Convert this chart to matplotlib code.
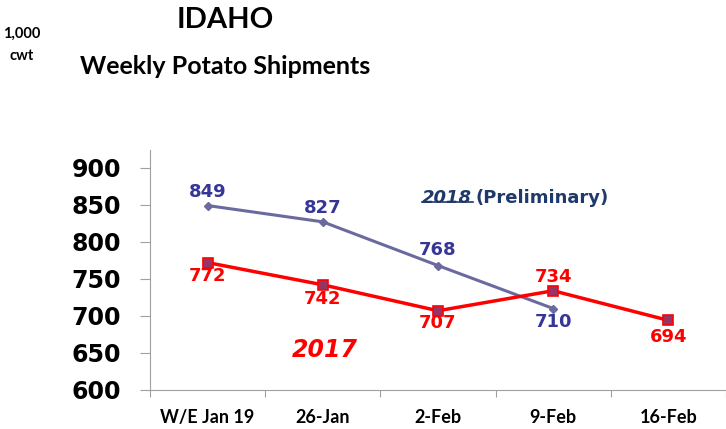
import matplotlib.pyplot as plt

# Idaho weekly potato shipments, 1,000 cwt
weeks = ['W/E Jan 19', '26-Jan', '2-Feb', '9-Feb', '16-Feb']
ship_2018 = [849, 827, 768, 710]
ship_2017 = [772, 742, 707, 734, 694]

blue_line = '#6a6a9e'
blue_text = '#363697'
red = '#ff0000'
navy = '#1f3a6a'

fig = plt.figure(figsize=(7.26, 4.29), dpi=100)
ax = fig.add_axes([150 / 726, 39 / 429, 576 / 726, 240 / 429])

x18 = list(range(len(ship_2018)))
x17 = list(range(len(ship_2017)))
ax.plot(x18, ship_2018, color=blue_line, lw=2.2, marker='D', ms=4.5,
        mfc=blue_line, mec=blue_line, zorder=3)
ax.plot(x17, ship_2017, color=red, lw=2.5, marker='s', ms=7,
        mfc='#993366', mec=red, mew=1.2, zorder=4)

# label offsets (points): 2018 above except last, 2017 below except 9-Feb
off_2018 = [10, 10, 11, -10]
off_2017 = [-10, -10, -9, 10, -12]
for i, v in enumerate(ship_2018):
    ax.annotate(str(v), (i, v), xytext=(0, off_2018[i]), textcoords='offset points',
                ha='center', va='center', color=blue_text, fontsize=13,
                fontweight='bold', family='DejaVu Sans')
for i, v in enumerate(ship_2017):
    ax.annotate(str(v), (i, v), xytext=(0, off_2017[i]), textcoords='offset points',
                ha='center', va='center', color=red, fontsize=13,
                fontweight='bold', family='DejaVu Sans')

ax.text(1.02, 654, '2017', color=red, fontsize=17, fontweight='bold',
        fontstyle='italic', ha='center', va='center', family='DejaVu Sans')
t = ax.text(1.86, 859, '2018', color=navy, fontsize=13, fontweight='bold',
            fontstyle='italic', ha='left', va='center', family='DejaVu Sans')
fig.canvas.draw()
bb = t.get_window_extent()
inv = ax.transData.inverted()
x0, y0 = inv.transform((bb.x0, bb.y0))
x1, _ = inv.transform((bb.x1, bb.y0))
gap = 0.06
ax.plot([x0, x1 + gap], [y0 + 1.5, y0 + 1.5], color=navy, lw=1.2, clip_on=False)
ax.text(x1 + gap + 0.02, 859, '(Preliminary)', color=navy, fontsize=13,
        fontweight='bold', ha='left', va='center', family='DejaVu Sans')

ax.set_xlim(-0.5, 4.47)
ax.set_ylim(600, 924)
ax.set_yticks(range(600, 901, 50))
ax.set_xticks([k + 0.5 for k in range(-1, 5)], minor=False)
ax.set_xticklabels([])
ax.set_xticks(x17, minor=True)
ax.set_xticklabels(weeks, minor=True, fontsize=13, fontweight='bold', family='Lato')
ax.tick_params(axis='x', which='minor', length=0, pad=14)
ax.tick_params(axis='x', which='major', length=5, color='#a0a0a0', direction='out')
ax.tick_params(axis='y', length=7, color='#a0a0a0', pad=14)
for lab in ax.get_yticklabels():
    lab.set_fontsize(17)
    lab.set_fontweight('bold')
    lab.set_family('DejaVu Sans')
for s in ['top', 'right']:
    ax.spines[s].set_visible(False)
ax.spines['left'].set_color('#a0a0a0')
ax.spines['bottom'].set_color('#a0a0a0')

fig.text(225 / 726, 1 - 20 / 429, 'IDAHO', ha='center', va='center',
         fontsize=21, fontweight='bold', family='Lato')
fig.text(225 / 726, 1 - 66 / 429, 'Weekly Potato Shipments', ha='center',
         va='center', fontsize=18, fontweight='bold', family='Lato')
fig.text(22 / 726, 1 - 34 / 429, '1,000', ha='center', va='center',
         fontsize=10.5, fontweight='bold', family='Lato')
fig.text(22 / 726, 1 - 56 / 429, 'cwt', ha='center', va='center',
         fontsize=10.5, fontweight='bold', family='Lato')

fig.savefig('out.png', dpi=100)
